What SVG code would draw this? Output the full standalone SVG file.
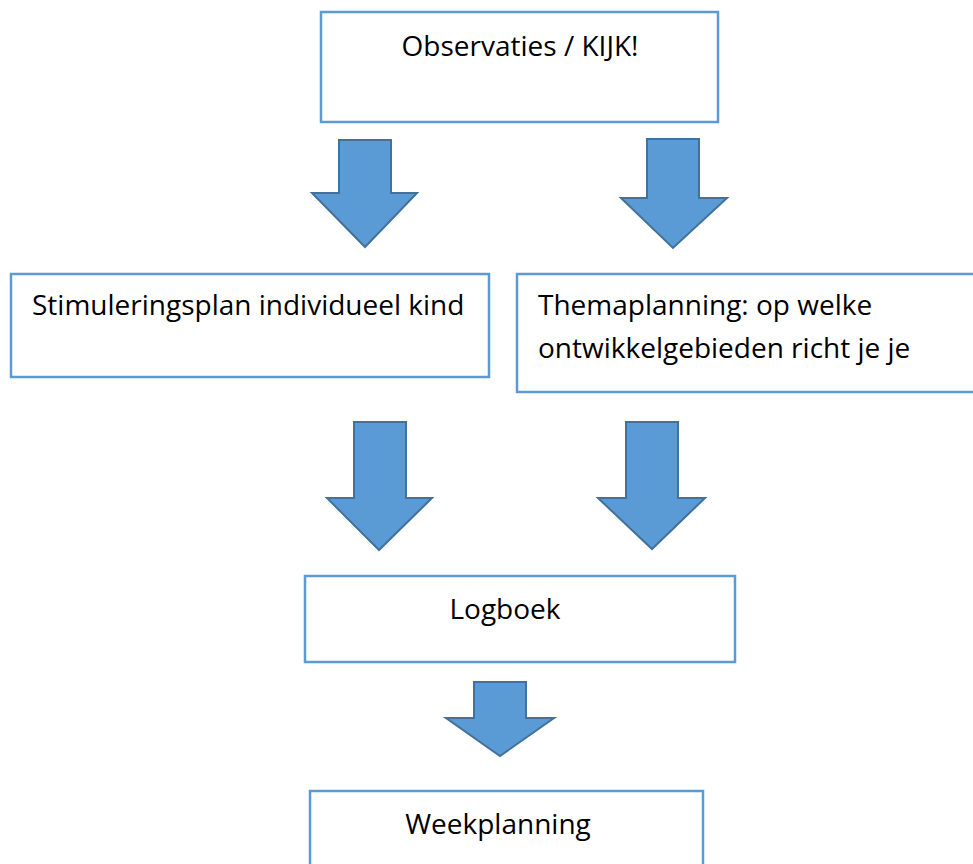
<svg xmlns="http://www.w3.org/2000/svg" width="973" height="864" viewBox="0 0 973 864">
<style>
.box{fill:#fff;stroke:#5B9BD5;stroke-width:2.5}
.arr{fill:#5B9BD5;stroke:#41719C;stroke-width:2;stroke-linejoin:miter}
text{font-family:"Open Sans","Liberation Sans",sans-serif;font-size:28px;fill:#000}
</style>
<rect width="973" height="864" fill="#fff"/>
<g id="observaties">
<rect class="box" x="321" y="12" width="397" height="110"/>
<text x="520" y="56" text-anchor="middle">Observaties / KIJK!</text>
</g>
<g id="stimuleringsplan">
<rect class="box" x="11" y="274" width="478" height="103"/>
<text x="32" y="315">Stimuleringsplan individueel kind</text>
</g>
<g id="themaplanning">
<rect class="box" x="517" y="274" width="470" height="118"/>
<text x="538" y="315">Themaplanning: op welke</text>
<text x="538" y="358">ontwikkelgebieden richt je je</text>
</g>
<g id="logboek">
<rect class="box" x="305" y="576" width="430" height="86"/>
<text x="505" y="619" text-anchor="middle">Logboek</text>
</g>
<g id="weekplanning">
<rect class="box" x="310" y="791" width="393" height="90"/>
<text x="498" y="834" text-anchor="middle">Weekplanning</text>
</g>
<g id="connectors">
<polygon class="arr" points="339,140 391,140 391,193 417,193 365,247 312,193 339,193"/>
<polygon class="arr" points="647,139 699,139 699,198 727,198 673,248 621,198 647,198"/>
<polygon class="arr" points="354,422 406,422 406,498 432,498 379,550 327,498 354,498"/>
<polygon class="arr" points="626,422 678,422 678,498 705,498 652,549 598,498 626,498"/>
<polygon class="arr" points="474,682 526,682 526,718 554,718 500,756 446,718 474,718"/>
</g>
</svg>
